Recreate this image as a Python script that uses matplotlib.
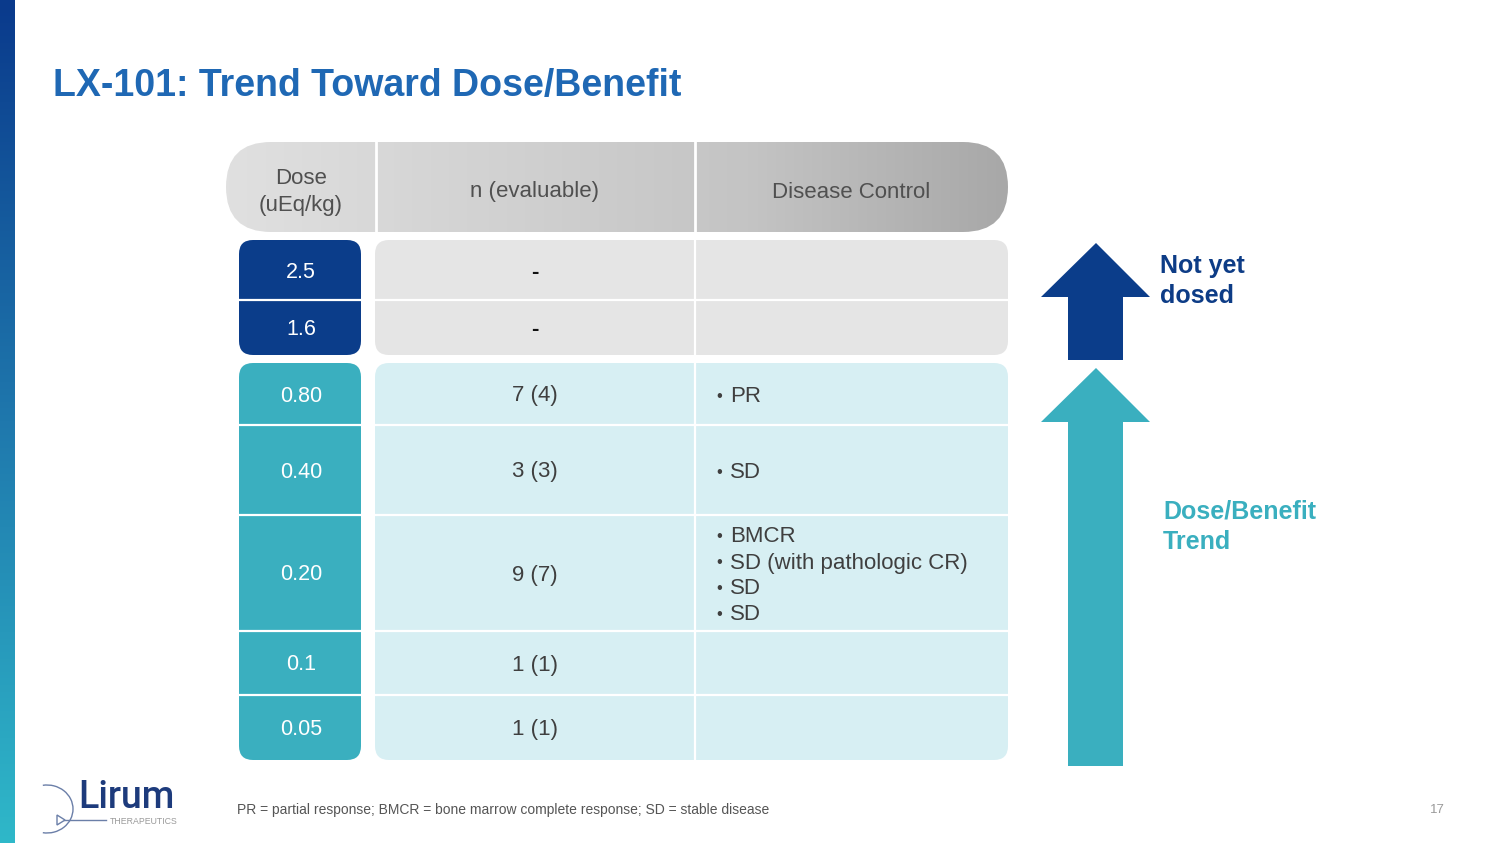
import numpy as np
import matplotlib
matplotlib.use("Agg")
import matplotlib.pyplot as plt
from matplotlib.patches import FancyBboxPatch, Polygon, Arc
from matplotlib.colors import LinearSegmentedColormap

plt.rcParams['font.family'] = ['Liberation Sans', 'DejaVu Sans']

# ---------------- data ----------------
title = "LX-101: Trend Toward Dose/Benefit"
headers = ["Dose\n(uEq/kg)", "n (evaluable)", "Disease Control"]
doses = ["2.5", "1.6", "0.80", "0.40", "0.20", "0.1", "0.05"]
n_evaluable = ["-", "-", "7 (4)", "3 (3)", "9 (7)", "1 (1)", "1 (1)"]
disease_control = [[], [], ["PR"], ["SD"],
                   ["BMCR", "SD (with pathologic CR)", "SD", "SD"], [], []]
footnote = "PR = partial response; BMCR = bone marrow complete response; SD = stable disease"
page_no = "17"
arrow_labels = ["Not yet\ndosed", "Dose/Benefit\nTrend"]

# ---------------- layout (pixels) ----------------
W, H = 1500, 843
row_edges_bot = [363, 425, 515, 631, 695, 760]  # dosed block rows
blk1 = (240, 355)
x_dose = (239, 361)
x_n = (375, 695)
x_dc = (695, 1008)

DARK = "#0b3d8a"
TEAL = "#3aafbf"
LIGHT_TEAL = "#d7eff3"
LIGHT_GRAY = "#e5e5e5"
TXT = "#3f3f3f"

fig = plt.figure(figsize=(W / 100, H / 100), dpi=100)
ax = fig.add_axes([0, 0, 1, 1])
ax.set_xlim(0, W)
ax.set_ylim(H, 0)
ax.axis("off")

# left gradient bar
grad = np.linspace(0, 1, 256).reshape(-1, 1)
cm_bar = LinearSegmentedColormap.from_list("bar", ["#0a3a8c", "#1f78ad", "#2fb8c9"])
ax.imshow(grad, cmap=cm_bar, extent=[0, 15, H, 0], aspect="auto", zorder=1)

# title
ax.text(53, 86, title, fontsize=27, fontweight="bold", color="#1f68b4",
        ha="left", va="center")

# header pill with gradient
hx0, hx1, hy0, hy1 = 226, 1008, 142, 232
pill = FancyBboxPatch((hx0, hy0), hx1 - hx0, hy1 - hy0,
                      boxstyle="round,pad=0,rounding_size=45",
                      facecolor="none", edgecolor="none", zorder=2)
ax.add_patch(pill)
hgrad = np.linspace(0, 1, 256).reshape(1, -1)
cm_head = LinearSegmentedColormap.from_list("head", ["#e0e0e0", "#d2d2d2", "#c4c4c4", "#a8a8a8"])
im = ax.imshow(hgrad, cmap=cm_head, extent=[hx0, hx1, hy1, hy0], aspect="auto", zorder=2)
im.set_clip_path(pill)
for xv in (376, 695):
    ax.plot([xv, xv], [hy0, hy1], color="white", lw=2, zorder=3)
hx_centers = [301, (x_n[0] + x_n[1]) / 2, (x_dc[0] + x_dc[1]) / 2]
for xc, h in zip(hx_centers, headers):
    ax.text(xc, (hy0 + hy1) / 2 + 5, h, fontsize=16, color="#505050",
            ha="center", va="center", linespacing=1.33, zorder=4)

ax.set_xlim(0, W)
ax.set_ylim(H, 0)

# blocks
def rbox(x0, x1, y0, y1, color, r=14):
    p = FancyBboxPatch((x0, y0), x1 - x0, y1 - y0,
                       boxstyle=f"round,pad=0,rounding_size={r}",
                       facecolor=color, edgecolor="none", zorder=2)
    ax.add_patch(p)

rbox(x_dose[0], x_dose[1], blk1[0], blk1[1], DARK)
rbox(x_n[0], x_dc[1], blk1[0], blk1[1], LIGHT_GRAY)
rbox(x_dose[0], x_dose[1], row_edges_bot[0], row_edges_bot[-1], TEAL)
rbox(x_n[0], x_dc[1], row_edges_bot[0], row_edges_bot[-1], LIGHT_TEAL)

# row bounds
rows = [(240, 300), (300, 355)] + list(zip(row_edges_bot[:-1], row_edges_bot[1:]))

# dividers
for (y0, y1) in rows[1:2] + rows[3:]:
    ax.plot([x_dose[0], x_dose[1]], [y0, y0], color="white", lw=1.6, zorder=3)
    ax.plot([x_n[0], x_dc[1]], [y0, y0], color="white", lw=1.6, zorder=3)
ax.plot([x_dc[0], x_dc[0]], [blk1[0], blk1[1]], color="white", lw=1.6, zorder=3)
ax.plot([x_dc[0], x_dc[0]], [row_edges_bot[0], row_edges_bot[-1]], color="white", lw=1.6, zorder=3)

# cell texts
for (y0, y1), d, n, dc in zip(rows, doses, n_evaluable, disease_control):
    yc = (y0 + y1) / 2
    ax.text(301, yc + 2, d, fontsize=15.5, color="white", ha="center", va="center", zorder=4)
    if n == "-":
        ax.text((x_n[0] + x_n[1]) / 2, yc + 2, n, fontsize=16, color="#111111",
                ha="center", va="center", fontweight="bold", zorder=4)
    else:
        ax.text((x_n[0] + x_n[1]) / 2, yc + 2, n, fontsize=16, color=TXT,
                ha="center", va="center", zorder=4)
    if dc:
        step = 26
        start = yc - step * (len(dc) - 1) / 2
        for i, item in enumerate(dc):
            yy = start + i * step + 2
            ax.text(716, yy, "\u2022", fontsize=12, color=TXT, ha="left", va="center", zorder=4)
            ax.text(730, yy + 1, item, fontsize=16, color=TXT, ha="left", va="center", zorder=4)

# arrows
def up_arrow(tip_y, head_base_y, bottom_y, color):
    xc = 1096
    pts = [(xc, tip_y), (1150, head_base_y), (1123, head_base_y), (1123, bottom_y),
           (1068, bottom_y), (1068, head_base_y), (1041, head_base_y)]
    ax.add_patch(Polygon(pts, closed=True, facecolor=color, edgecolor="none", zorder=2))

up_arrow(243, 297, 360, DARK)
up_arrow(368, 422, 766, TEAL)
ax.text(1160, 281, arrow_labels[0], fontsize=18, fontweight="bold", color="#0d3c86",
        ha="left", va="center", linespacing=1.33)
ax.text(1163, 527, arrow_labels[1], fontsize=18, fontweight="bold", color=TEAL,
        ha="left", va="center", linespacing=1.33)

# footnote & page number
ax.text(237, 810, footnote, fontsize=10, color="#555555", ha="left", va="center")
ax.text(1437, 810, page_no, fontsize=9.5, color="#9a9a9a", ha="center", va="center")

# logo
ax.add_patch(Arc((47, 809), 52, 48, theta1=-100, theta2=100, color="#6b7fa8", lw=1.0, zorder=3))
ax.plot([64, 106], [820, 820], color="#6b7fa8", lw=1.0, zorder=3)
ax.add_patch(Polygon([(57, 815), (57, 825), (65, 820)], closed=True, facecolor="white",
                     edgecolor="#6b7fa8", lw=1.0, zorder=3))
ax.text(78, 808, "Lirum", fontsize=27, color="#1d3b7c", ha="left", va="baseline",
        family=["Roboto", "Liberation Sans"], fontweight="medium", zorder=3)
ax.text(110, 822, "THERAPEUTICS", fontsize=6.3, color="#9a9a9a", ha="left", va="center", zorder=3)

fig.savefig("out.png", dpi=100, facecolor="white")
